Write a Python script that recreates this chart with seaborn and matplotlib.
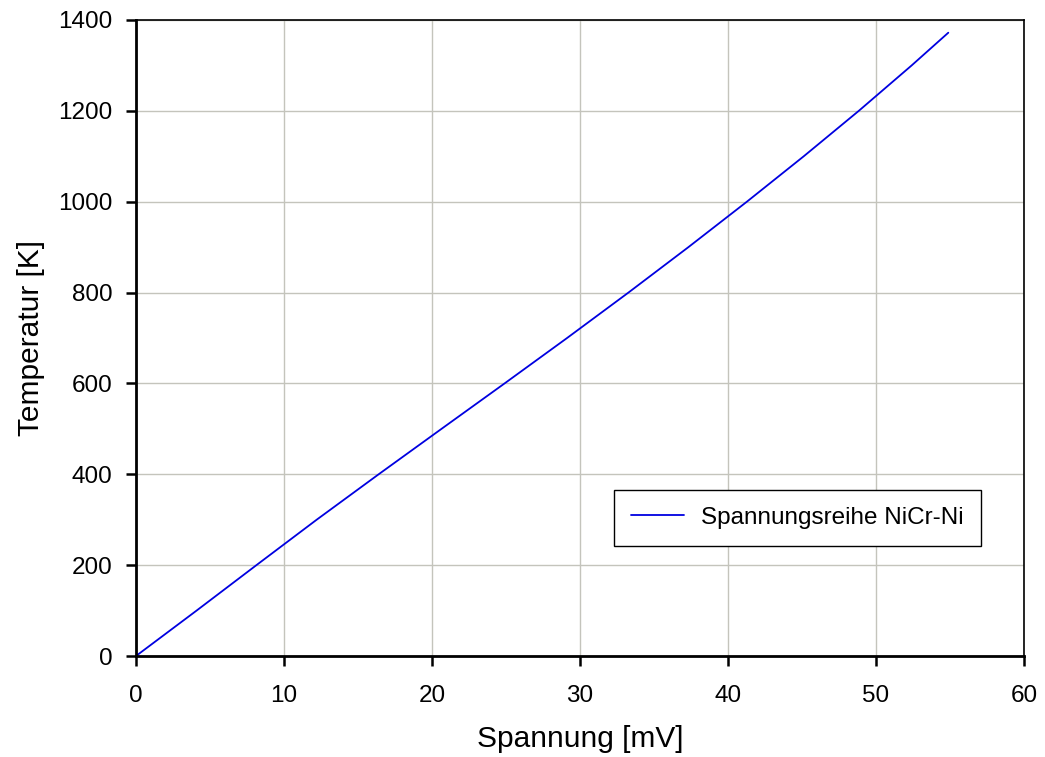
import matplotlib
matplotlib.use("Agg")
import matplotlib.pyplot as plt
import seaborn as sns
import pandas as pd

# NiCr-Ni thermocouple voltage series
spannung_mv = [0.0, 4.096, 8.138, 12.209, 16.397, 20.644, 24.905, 29.129,
               33.275, 37.326, 41.276, 45.119, 48.838, 52.410, 54.886]
temperatur = [0, 100, 200, 300, 400, 500, 600, 700,
              800, 900, 1000, 1100, 1200, 1300, 1372]

df = pd.DataFrame({"Spannung [mV]": spannung_mv, "Temperatur [K]": temperatur})

sns.set_theme(style="white")
plt.rcParams["font.family"] = ["Liberation Sans", "DejaVu Sans"]
plt.rcParams["text.color"] = "black"
plt.rcParams["axes.labelcolor"] = "black"

fig = plt.figure(figsize=(10.45, 7.57), dpi=100)
ax = fig.add_axes([0.1301, 0.1334, 0.8498, 0.8402])

sns.lineplot(data=df, x="Spannung [mV]", y="Temperatur [K]", ax=ax,
             color="#0000e0", linewidth=1.3, label="Spannungsreihe NiCr-Ni")

ax.set_xlim(0, 60)
ax.set_ylim(0, 1400)
ax.set_xticks(range(0, 61, 10))
ax.set_yticks(range(0, 1401, 200))
ax.grid(True, color="#c4c4bc", linewidth=1.0)
ax.set_axisbelow(True)

for side in ["left", "bottom"]:
    ax.spines[side].set_linewidth(2.0)
    ax.spines[side].set_color("black")
for side in ["top", "right"]:
    ax.spines[side].set_linewidth(1.2)
    ax.spines[side].set_color("black")

ax.tick_params(axis="both", which="major", bottom=True, left=True,
               top=False, right=False, direction="out", length=7, width=1.8,
               colors="black", labelsize=17.5)
ax.tick_params(axis="y", pad=10)
ax.tick_params(axis="x", pad=14)
ax.set_xlabel("Spannung [mV]", fontsize=21.5, labelpad=13)
ax.set_ylabel("Temperatur [K]", fontsize=21.5, labelpad=9)

leg = ax.legend(loc="lower left", bbox_to_anchor=(0.538, 0.173), borderaxespad=0,
                fontsize=17.5, frameon=True, fancybox=False, handlelength=2.2,
                borderpad=0.7, handletextpad=0.7)
leg.get_frame().set_edgecolor("black")
leg.get_frame().set_linewidth(1.0)
leg.get_frame().set_alpha(1.0)

fig.savefig("out.png", dpi=100)
